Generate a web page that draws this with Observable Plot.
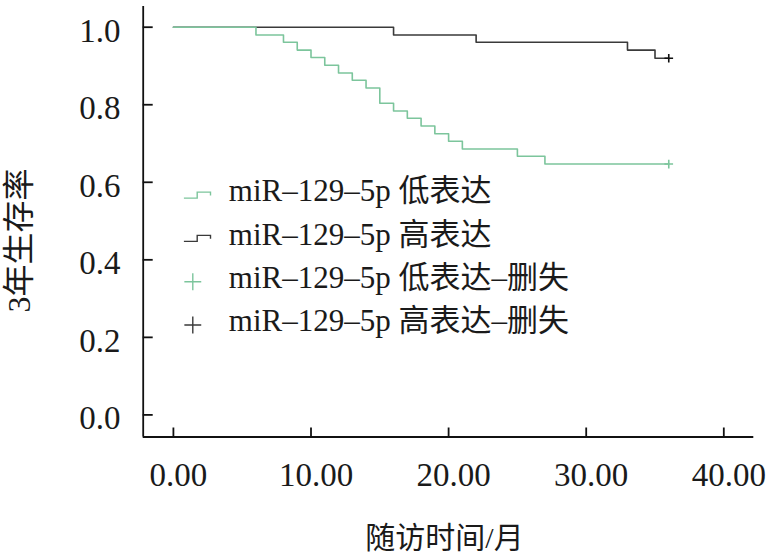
<!DOCTYPE html>
<html>
<head>
<meta charset="utf-8">
<script src="https://cdn.jsdelivr.net/npm/d3@7"></script>
<script src="https://cdn.jsdelivr.net/npm/@observablehq/plot@0.6"></script>
<style>
  html, body { margin: 0; padding: 0; background: #fff; }
  g[aria-label="legend-text"] text { letter-spacing: 1.5px; }
</style>
</head>
<body>
<div id="chart"></div>
<script>
// ---- data ----
const lowTimes  = [0, 6, 8, 9, 10, 11, 12, 13, 14, 15, 16, 17, 18, 19, 20, 21, 25, 27, 36];
const lowSurv   = [1.0, 0.980, 0.961, 0.941, 0.922, 0.902, 0.882, 0.863, 0.843, 0.804, 0.784, 0.765, 0.745, 0.725, 0.706, 0.686, 0.667, 0.647, 0.647];
const highTimes = [0, 16, 22, 33, 35, 36];
const highSurv  = [1.0, 0.980, 0.961, 0.941, 0.920, 0.920];
const lowCensorTime = [36];
const lowCensorSurv = [0.647];
const highCensorTime = [36];
const highCensorSurv = [0.920];
const xTicks = [0, 10, 20, 30, 40];
const yTicks = [0, 0.2, 0.4, 0.6, 0.8, 1.0];
const xLabel = "随访时间/月";
const yLabel = "3年生存率";
const legendLabels = ["miR–129–5p 低表达", "miR–129–5p 高表达", "miR–129–5p 低表达–删失", "miR–129–5p 高表达–删失"];
const legendKinds = ["step", "step", "plus", "plus"];

const GREEN = "#7cc59c";
const DARK = "#3a3a3a";
const legendColors = [GREEN, DARK, GREEN, DARK];

const low = lowTimes.map((t, i) => ({t, s: lowSurv[i]}));
const high = highTimes.map((t, i) => ({t, s: highSurv[i]}));
const lowC = lowCensorTime.map((t, i) => ({t, s: lowCensorSurv[i]}));
const highC = highCensorTime.map((t, i) => ({t, s: highCensorSurv[i]}));

const xDomain = [-2.195, 42.18];
const yDomain = [-0.057, 1.0534];
const mL = 142.7, mT = 6;

const stepSymbol = {
  draw(context) {
    context.moveTo(-13.3, 3);
    context.lineTo(0, 3);
    context.lineTo(0, -3);
    context.lineTo(13.3, -3);
    context.lineTo(13.3, 0.3);
  }
};

const legendMarks = legendLabels.flatMap((label, i) => {
  const symY = 194.6 + i * 43.3 - mT;
  const symX = (legendKinds[i] === "step" ? 196.7 : 192.3) - mL;
  return [
    Plot.dot([label], {
      x: null, y: null, frameAnchor: "top-left", dx: symX, dy: symY,
      symbol: legendKinds[i] === "step" ? stepSymbol : "plus",
      r: 5.5, stroke: legendColors[i], fill: "none", strokeWidth: 1.4
    }),
    Plot.text([label], {
      x: null, y: null, text: d => d, frameAnchor: "top-left",
      dx: 228.3 - mL, dy: 201 + i * 43.3 - 10 - mT,
      textAnchor: "start", lineAnchor: "middle", fontSize: 31, fill: "#1a1a1a",
      ariaLabel: "legend-text"
    })
  ];
});

const chart = Plot.plot({
  width: 782,
  height: 557,
  marginLeft: mL,
  marginRight: 782 - 753.3,
  marginTop: mT,
  marginBottom: 557 - 436.5,
  style: {fontFamily: "'Liberation Serif', 'Noto Sans CJK SC', serif", fontSize: "33px", color: "#1a1a1a", background: "#fff"},
  x: {domain: xDomain},
  y: {domain: yDomain},
  marks: [
    Plot.ruleX([xDomain[0]], {stroke: "#111", strokeWidth: 1.8}),
    Plot.ruleY([yDomain[0]], {stroke: "#111", strokeWidth: 1.8}),
    Plot.axisX({ticks: xTicks, tickSize: -9, text: null, label: null, strokeWidth: 1.8, stroke: "#111"}),
    Plot.axisX({ticks: xTicks, tickSize: 0, tickPadding: 25.6, dx: 5, tickFormat: d3.format(".2f"), label: null, fontSize: 33}),
    Plot.axisY({ticks: yTicks, tickSize: -10, text: null, label: null, strokeWidth: 1.8, stroke: "#111"}),
    Plot.axisY({ticks: yTicks, tickSize: 0, tickPadding: 22.7, dy: 4, tickFormat: d3.format(".1f"), label: null, fontSize: 33}),
    Plot.line(high, {x: "t", y: "s", curve: "step-after", stroke: DARK, strokeWidth: 1.6}),
    Plot.line(low, {x: "t", y: "s", curve: "step-after", stroke: GREEN, strokeWidth: 1.6}),
    Plot.dot(lowC, {x: "t", y: "s", symbol: "plus", r: 2.9, stroke: GREEN, strokeWidth: 1.6}),
    Plot.dot(highC, {x: "t", y: "s", symbol: "plus", r: 2.9, stroke: "#111", strokeWidth: 1.6}),
    Plot.text([yLabel], {x: null, y: null, text: d => d, frameAnchor: "left", dx: 19 - mL, dy: 240 - 221.25, rotate: -90, textAnchor: "middle", lineAnchor: "middle", fontSize: 32, fill: "#1a1a1a"}),
    Plot.text([xLabel], {x: null, y: null, text: d => d, frameAnchor: "bottom", dx: -4, dy: 101.5, textAnchor: "middle", lineAnchor: "middle", fontSize: 30, fill: "#1a1a1a"}),
    ...legendMarks
  ]
});
document.getElementById("chart").appendChild(chart);
</script>
</body>
</html>
